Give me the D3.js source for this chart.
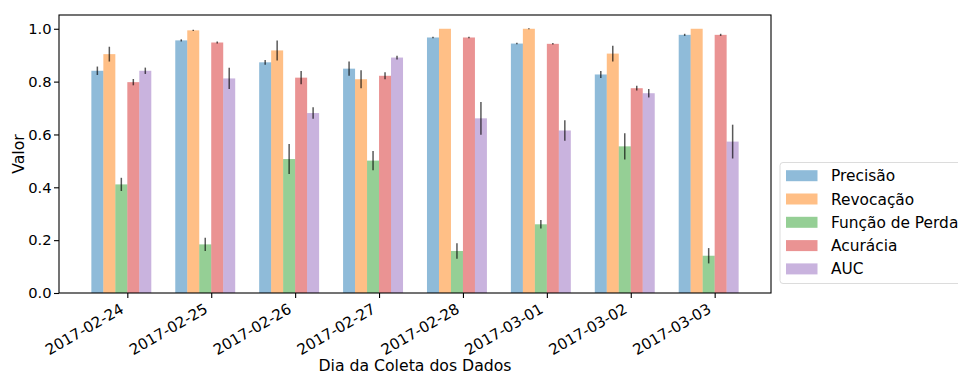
<!DOCTYPE html>
<html>
<head>
<meta charset="utf-8">
<script src="https://cdn.jsdelivr.net/npm/d3@7"></script>
<style>
  html, body { margin: 0; padding: 0; background: #fff; }
  svg { display: block; font-family: "DejaVu Sans", sans-serif; }
</style>
</head>
<body>
<svg id="chart" width="958" height="373"></svg>
<script>
// Collection days
const dates = ["2017-02-24", "2017-02-25", "2017-02-26", "2017-02-27",
               "2017-02-28", "2017-03-01", "2017-03-02", "2017-03-03"];

// Mean value of each metric per day, with its error (std)
const precisao      = [0.841, 0.956, 0.873, 0.849, 0.967, 0.944, 0.827, 0.977];
const precisaoErr   = [0.016, 0.004, 0.009, 0.027, 0.003, 0.003, 0.013, 0.004];
const revocacao     = [0.904, 0.994, 0.918, 0.809, 1.000, 1.000, 0.906, 1.000];
const revocacaoErr  = [0.028, 0.002, 0.038, 0.034, 0.000, 0.002, 0.030, 0.000];
const perda         = [0.411, 0.184, 0.507, 0.501, 0.159, 0.260, 0.555, 0.141];
const perdaErr      = [0.025, 0.025, 0.057, 0.036, 0.029, 0.016, 0.050, 0.029];
const acuracia      = [0.798, 0.948, 0.815, 0.822, 0.967, 0.943, 0.775, 0.977];
const acuraciaErr   = [0.012, 0.004, 0.025, 0.013, 0.003, 0.003, 0.009, 0.004];
const auc           = [0.841, 0.812, 0.681, 0.891, 0.661, 0.615, 0.756, 0.573];
const aucErr        = [0.012, 0.040, 0.022, 0.007, 0.062, 0.039, 0.016, 0.064];

const seriesNames = ["Precisão", "Revocação", "Função de Perda", "Acurácia", "AUC"];
const yTicks = [0.0, 0.2, 0.4, 0.6, 0.8, 1.0];

const series = [
  { name: seriesNames[0], values: precisao,  errors: precisaoErr,  color: "#1f77b4" },
  { name: seriesNames[1], values: revocacao, errors: revocacaoErr, color: "#ff7f0e" },
  { name: seriesNames[2], values: perda,     errors: perdaErr,     color: "#2ca02c" },
  { name: seriesNames[3], values: acuracia,  errors: acuraciaErr,  color: "#d62728" },
  { name: seriesNames[4], values: auc,       errors: aucErr,       color: "#9467bd" }
];

const svg = d3.select("#chart");
const plot = { left: 59, right: 771, top: 15, bottom: 293 };

// Bars: width 1/7 each, series i offset by (i - 2.5) widths from the day index
const barW = 1 / 7;
const nS = series.length;
const dataMin = -0.5 * nS * barW - 0.5 * barW;
const dataMax = (dates.length - 1) + (nS - 1 - 2.5) * barW + 0.5 * barW;
const pad = (dataMax - dataMin) * 0.05;
const x = d3.scaleLinear()
  .domain([dataMin - pad, dataMax + pad])
  .range([plot.left, plot.right]);

const topVal = d3.max(series.flatMap(s => s.values.map((v, i) => v + s.errors[i])));
const y = d3.scaleLinear()
  .domain([0, topVal * 1.05])
  .range([plot.bottom, plot.top]);

// Bars
series.forEach((s, si) => {
  const g = svg.append("g");
  const off = (si - 2.5) * barW;
  g.selectAll("rect")
    .data(s.values)
    .join("rect")
    .attr("x", (d, i) => x(i + off - barW / 2))
    .attr("width", (d, i) => x(i + off + barW / 2) - x(i + off - barW / 2))
    .attr("y", d => y(d))
    .attr("height", d => y(0) - y(d))
    .attr("fill", s.color)
    .attr("fill-opacity", 0.5);
});

// Error bars
series.forEach((s, si) => {
  const off = (si - 2.5) * barW;
  svg.append("g")
    .selectAll("line")
    .data(s.values)
    .join("line")
    .attr("x1", (d, i) => x(i + off))
    .attr("x2", (d, i) => x(i + off))
    .attr("y1", (d, i) => y(d - s.errors[i]))
    .attr("y2", (d, i) => y(d + s.errors[i]))
    .attr("stroke", "#000")
    .attr("stroke-opacity", 0.65)
    .attr("stroke-width", 1.5);
});

// Frame
svg.append("rect")
  .attr("x", plot.left).attr("y", plot.top)
  .attr("width", plot.right - plot.left)
  .attr("height", plot.bottom - plot.top)
  .attr("fill", "none")
  .attr("stroke", "#000")
  .attr("stroke-width", 1.1);

// Y axis
const yAxis = svg.append("g")
  .attr("transform", `translate(${plot.left},0)`)
  .call(d3.axisLeft(y).tickValues(yTicks).tickFormat(d3.format(".1f"))
    .tickSize(5).tickPadding(2.5).tickSizeOuter(0));
yAxis.select(".domain").remove();
yAxis.selectAll("line").attr("stroke", "#000").attr("stroke-width", 1.1);
yAxis.selectAll("text").attr("font-size", 14.7).attr("fill", "#000")
  .attr("font-family", "DejaVu Sans");

// X axis (ticks at each day, labels rotated)
const xAxis = svg.append("g")
  .attr("transform", `translate(0,${plot.bottom})`)
  .call(d3.axisBottom(x).tickValues(d3.range(dates.length))
    .tickFormat(i => dates[i]).tickSize(5).tickSizeOuter(0));
xAxis.select(".domain").remove();
xAxis.selectAll("line").attr("stroke", "#000").attr("stroke-width", 1.1);
xAxis.selectAll(".tick text")
  .attr("font-size", 15)
  .attr("font-family", "DejaVu Sans")
  .attr("fill", "#000")
  .attr("text-anchor", "end")
  .attr("dy", null)
  .attr("y", null)
  .attr("transform", "translate(-3,19) rotate(-30)");

// Axis titles
svg.append("text")
  .attr("x", (plot.left + plot.right) / 2)
  .attr("y", 370.5)
  .attr("text-anchor", "middle")
  .attr("font-size", 15.7)
  .attr("fill", "#000")
  .text("Dia da Coleta dos Dados");

svg.append("text")
  .attr("transform", `translate(24,${(plot.top + plot.bottom) / 2}) rotate(-90)`)
  .attr("text-anchor", "middle")
  .attr("font-size", 15.7)
  .attr("fill", "#000")
  .text("Valor");

// Legend
const legend = svg.append("g").attr("transform", "translate(780,162.5)");
legend.append("rect")
  .attr("x", 0).attr("y", 0)
  .attr("width", 190).attr("height", 121)
  .attr("rx", 3)
  .attr("fill", "#fff")
  .attr("fill-opacity", 0.8)
  .attr("stroke", "#dcdcdc")
  .attr("stroke-width", 1);

const rowStep = 23.3;
const rows = legend.selectAll("g.item")
  .data(series)
  .join("g")
  .attr("class", "item")
  .attr("transform", (d, i) => `translate(0,${13.2 + i * rowStep})`);
rows.append("rect")
  .attr("x", 6).attr("y", -5.5)
  .attr("width", 31.5).attr("height", 11)
  .attr("fill", d => d.color)
  .attr("fill-opacity", 0.5);
rows.append("text")
  .attr("x", 51)
  .attr("y", 0)
  .attr("dy", "0.36em")
  .attr("font-size", 15.4)
  .attr("fill", "#000")
  .text(d => d.name);
</script>
</body>
</html>
